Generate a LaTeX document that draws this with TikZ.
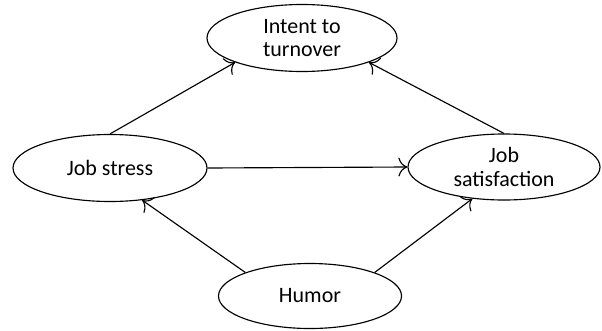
\documentclass[tikz,border=0pt]{standalone}
\usepackage{fontspec}
\setmainfont{Carlito}
\usetikzlibrary{shapes.geometric,arrows.meta}
\begin{document}
\begin{tikzpicture}[
		var/.style={draw, ellipse, line width=0.65pt, align=center, inner sep=0pt, font=\fontsize{12.5}{13.5}\selectfont},
		link/.style={line width=0.65pt, -{To[scale=1.7]}}]
		\useasboundingbox (0,0) rectangle (12.04,6.6);
		\node[var, minimum width=3.8cm, minimum height=1.34cm] (intent) at (6.04,5.84) {Intent to\\turnover};
		\node[var, minimum width=3.88cm, minimum height=1.34cm] (stress) at (2.2,3.24) {Job stress};
		\node[var, minimum width=3.84cm, minimum height=1.32cm] (satisf) at (10.08,3.26) {Job\\satisfaction};
		\node[var, minimum width=3.66cm, minimum height=1.3cm] (humor) at (6.2,0.68) {Humor};
		\draw[link] (stress.north) -- (intent.200);
		\draw[link] (satisf.north) -- (intent.340);
		\draw[link] (stress.east) -- (satisf.west);
		\draw[link] (humor.160) -- (stress.315);
		\draw[link] (humor.20) -- (satisf.225);
	\end{tikzpicture}
\end{document}
